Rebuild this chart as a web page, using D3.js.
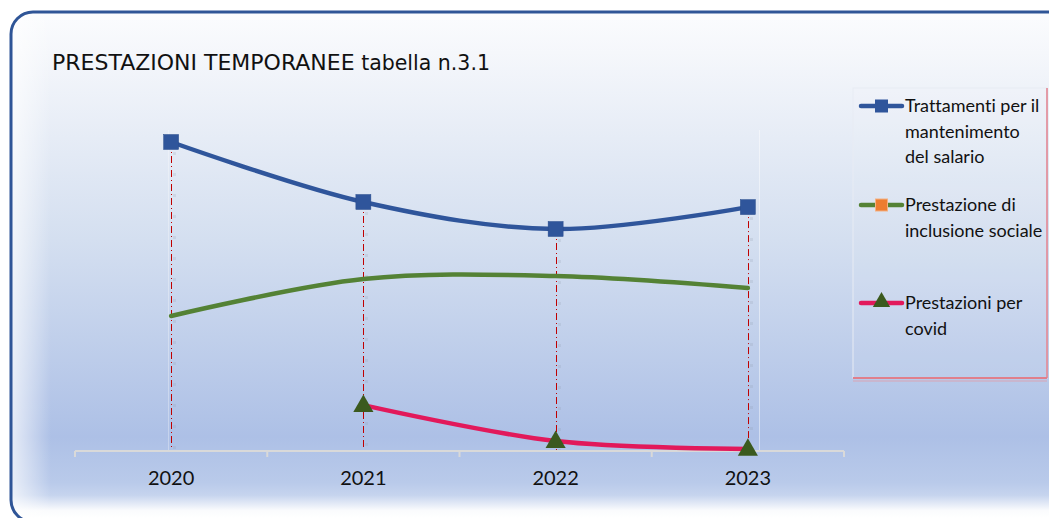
<!DOCTYPE html>
<html>
<head>
<meta charset="utf-8">
<script src="https://cdn.jsdelivr.net/npm/d3@7"></script>
<style>
  html, body { margin: 0; padding: 0; background: #ffffff; }
  svg { display: block; }
</style>
</head>
<body>
<svg id="chart" width="1049" height="518"></svg>
<script>
// ---- data ----
const years = ["2020", "2021", "2022", "2023"];
const trattamenti = [103, 83, 74, 81.3];      // Trattamenti per il mantenimento del salario
const inclusione = [45, 57.3, 58.3, 54.3];    // Prestazione di inclusione sociale
const covid = [null, 15.3, 3.3, 0.7];         // Prestazioni per covid
const seriesNames = ["Trattamenti per il mantenimento del salario", "Prestazione di inclusione sociale", "Prestazioni per covid"];
const legendLines = [["Trattamenti per il", "mantenimento", "del salario"], ["Prestazione di", "inclusione sociale"], ["Prestazioni per", "covid"]];
const titleMain = "PRESTAZIONI TEMPORANEE";
const titleSub = " tabella n.3.1";

const W = 1049, H = 518;
const svg = d3.select("#chart");
const defs = svg.append("defs");

const FX = 11, FY = 12, FW = 1100, FH = 510;

// background gradient
const bg = defs.append("linearGradient").attr("id", "bgGrad").attr("gradientUnits", "userSpaceOnUse")
  .attr("x1", 0).attr("y1", FY).attr("x2", 0).attr("y2", 518);
[[0, "#fbfcfe"], [0.08, "#f5f7fb"], [0.45, "#d4dff0"], [0.84, "#adc0e6"], [0.93, "#b9caea"], [0.955, "#c6d4ee"], [0.985, "#fafbfd"], [1, "#ffffff"]]
  .forEach(([o, c]) => bg.append("stop").attr("offset", o).attr("stop-color", c));
const leftFade = defs.append("linearGradient").attr("id", "leftFade").attr("x1", 0).attr("y1", 0).attr("x2", 1).attr("y2", 0);
leftFade.append("stop").attr("offset", 0).attr("stop-color", "#ffffff").attr("stop-opacity", 0.7);
leftFade.append("stop").attr("offset", 1).attr("stop-color", "#ffffff").attr("stop-opacity", 0);

const clip = defs.append("clipPath").attr("id", "frameClip");
clip.append("rect").attr("x", FX).attr("y", FY).attr("width", FW).attr("height", FH).attr("rx", 22);

const g0 = svg.append("g").attr("clip-path", "url(#frameClip)");
g0.append("rect").attr("x", FX).attr("y", FY).attr("width", FW).attr("height", FH).attr("fill", "url(#bgGrad)");
g0.append("rect").attr("x", FX).attr("y", FY).attr("width", 40).attr("height", FH).attr("fill", "url(#leftFade)");

// frame border
svg.append("rect").attr("x", FX).attr("y", FY).attr("width", FW).attr("height", FH).attr("rx", 22)
  .attr("fill", "none").attr("stroke", "#2f5597").attr("stroke-width", 3);

// title
const title = svg.append("text").attr("x", 52).attr("y", 70)
  .attr("font-family", "'DejaVu Sans', Verdana, sans-serif").attr("fill", "#111");
title.append("tspan").attr("font-size", 22).text(titleMain);
title.append("tspan").attr("font-size", 20.5).text(titleSub);

// scales
const x = d3.scaleBand().domain(years).range([75, 844]);
const y = d3.scaleLinear().domain([0, 100]).range([451, 151]);
const cx = d => x(d) + x.bandwidth() / 2;
const px = d => Math.round(cx(d)) + 0.5;

// faint plot area edges
svg.append("line").attr("x1", 168.5).attr("x2", 168.5).attr("y1", 130).attr("y2", 451).attr("stroke", "#ffffff").attr("stroke-opacity", 0.3);
svg.append("line").attr("x1", 759.5).attr("x2", 759.5).attr("y1", 130).attr("y2", 451).attr("stroke", "#ffffff").attr("stroke-opacity", 0.45);

// drop lines
const tops = years.map((yr, i) => Math.max(trattamenti[i], inclusione[i], covid[i] == null ? 0 : covid[i]));
svg.append("g").selectAll("line.drop").data(years).join("line")
  .attr("x1", d => px(d) + 3).attr("x2", d => px(d) + 3)
  .attr("y1", (d, i) => y(tops[i]) + 10).attr("y2", y(0))
  .attr("stroke", "#8a94a8").attr("stroke-opacity", 0.18).attr("stroke-width", 3)
  .attr("stroke-dasharray", "3 18");
svg.append("g").selectAll("line.drop").data(years).join("line")
  .attr("x1", d => px(d)).attr("x2", d => px(d))
  .attr("y1", (d, i) => y(tops[i])).attr("y2", y(0))
  .attr("stroke", "#c00000").attr("stroke-width", 1)
  .attr("stroke-dasharray", "7 3 1 3");

// axis
const axisG = svg.append("g").attr("transform", `translate(0,${y(0)})`);
axisG.append("line").attr("x1", x.range()[0]).attr("x2", x.range()[1]).attr("stroke", "#d9d9d9").attr("stroke-width", 2);
const edges = years.map(d => x(d)).concat([x.range()[1]]);
axisG.selectAll("line.tick").data(edges).join("line")
  .attr("x1", d => d).attr("x2", d => d).attr("y1", 0).attr("y2", 6)
  .attr("stroke", "#d9d9d9").attr("stroke-width", 2);
axisG.selectAll("text").data(years).join("text")
  .attr("x", d => cx(d)).attr("y", 34).attr("text-anchor", "middle")
  .attr("font-family", "Lato, 'Open Sans', sans-serif").attr("font-size", 20).attr("fill", "#111")
  .text(d => d);

const curve = d3.curveCardinal.tension(0);
const line = d3.line().defined(d => d.v != null).x(d => cx(d.k)).y(d => y(d.v)).curve(curve);
const toPts = arr => years.map((k, i) => ({ k, v: arr[i] }));

const colors = { blue: "#2f559b", green: "#548235", red: "#e2195b", tri: "#3b5a1e", orange: "#ed7d31" };

svg.append("path").datum(toPts(inclusione)).attr("d", line).attr("fill", "none")
  .attr("stroke", colors.green).attr("stroke-width", 4.5).attr("stroke-linecap", "round");
svg.append("path").datum(toPts(trattamenti)).attr("d", line).attr("fill", "none")
  .attr("stroke", colors.blue).attr("stroke-width", 4.5).attr("stroke-linecap", "round");
svg.append("path").datum(toPts(covid)).attr("d", line).attr("fill", "none")
  .attr("stroke", colors.red).attr("stroke-width", 4.5).attr("stroke-linecap", "round");

// markers
svg.append("g").selectAll("rect").data(toPts(trattamenti)).join("rect")
  .attr("x", d => cx(d.k) - 7.5).attr("y", d => y(d.v) - 7.5).attr("width", 15).attr("height", 15)
  .attr("fill", colors.blue).attr("stroke", "#284c8c").attr("stroke-width", 0.5);
const tri = d3.symbol().type(d3.symbolTriangle).size(175);
svg.append("g").selectAll("path").data(toPts(covid).filter(d => d.v != null)).join("path")
  .attr("transform", d => `translate(${cx(d.k)},${y(d.v) + 1})`).attr("d", tri)
  .attr("fill", colors.tri);

// legend
const lg = svg.append("g");
lg.append("rect").attr("x", 853).attr("y", 88).attr("width", 194).attr("height", 290)
  .attr("fill", "#ffffff").attr("fill-opacity", 0.06).attr("stroke", "#e8ecf4").attr("stroke-width", 1);
lg.append("line").attr("x1", 853).attr("x2", 1047).attr("y1", 378).attr("y2", 378).attr("stroke", "#e07f8c").attr("stroke-width", 2);
lg.append("line").attr("x1", 1047).attr("x2", 1047).attr("y1", 88).attr("y2", 378).attr("stroke", "#e07f8c").attr("stroke-width", 1.5);
lg.append("line").attr("x1", 853).attr("x2", 1047).attr("y1", 381).attr("y2", 381).attr("stroke", "#d9a3b3").attr("stroke-opacity", 0.5).attr("stroke-width", 2);

const legendY = [106, 205, 303];
const legendColors = [colors.blue, colors.green, colors.red];
legendLines.forEach((lines, i) => {
  const yy = legendY[i];
  lg.append("line").attr("x1", 861).attr("x2", 902).attr("y1", yy).attr("y2", yy)
    .attr("stroke", legendColors[i]).attr("stroke-width", 4.5).attr("stroke-linecap", "round");
  if (i === 0) {
    lg.append("rect").attr("x", 875).attr("y", yy - 6.5).attr("width", 13).attr("height", 13).attr("fill", colors.blue);
  } else if (i === 1) {
    lg.append("rect").attr("x", 875.5).attr("y", yy - 6).attr("width", 12).attr("height", 12).attr("fill", colors.orange)
      .attr("stroke", "#f4b183").attr("stroke-width", 1);
  } else {
    lg.append("path").attr("transform", `translate(881.5,${yy - 1})`).attr("d", d3.symbol().type(d3.symbolTriangle).size(130)).attr("fill", colors.tri);
  }
  const t = lg.append("text").attr("x", 905).attr("y", yy + 6)
    .attr("font-family", "Lato, 'Open Sans', sans-serif").attr("font-size", 18).attr("fill", "#111")
    .style("font-variant-ligatures", "none");
  lines.forEach((s, j) => t.append("tspan").attr("x", 905).attr("dy", j === 0 ? 0 : 25.5).text(s));
});
</script>
</body>
</html>
